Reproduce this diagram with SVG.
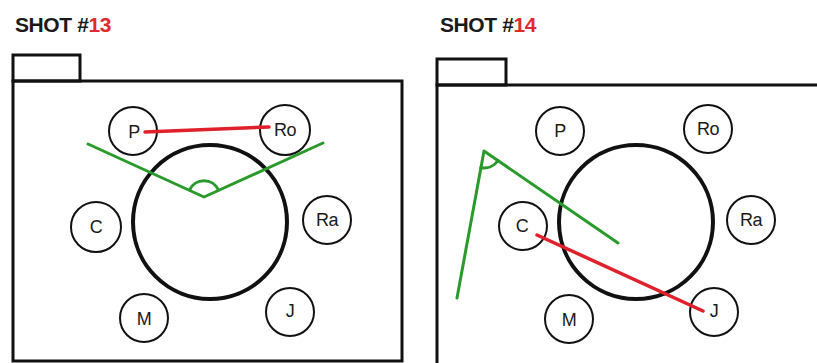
<svg xmlns="http://www.w3.org/2000/svg" width="817" height="363" viewBox="0 0 817 363">
  <style>
    .title { font-family: "Liberation Sans", Arial, sans-serif; font-weight: bold; font-size: 21px; fill: #1a1a1a; letter-spacing: -0.4px; }
    .num { fill: #e02a30; }
    .frame { fill: none; stroke: #111; stroke-width: 3; }
    .table { fill: none; stroke: #111; stroke-width: 4; }
    .seat { fill: #fff; stroke: #111; stroke-width: 2; }
    .lbl { font-family: "Liberation Sans", Arial, sans-serif; font-size: 18px; fill: #1a1a1a; text-anchor: middle; dominant-baseline: central; letter-spacing: -0.5px; }
    .sight { fill: none; stroke: #2a9a2a; stroke-width: 3; stroke-linecap: round; stroke-linejoin: round; }
    .axis { fill: none; stroke: #e0202a; stroke-width: 3.5; stroke-linecap: round; }
  </style>
  <rect width="817" height="363" fill="#fff"/>

  <!-- Shot 13 -->
  <g id="shot13">
    <text class="title" x="15" y="32">SHOT #<tspan class="num">13</tspan></text>
    <g id="s13-frame">
      <rect class="frame" x="13" y="55" width="67" height="26"/>
      <rect class="frame" x="13" y="81" width="389" height="280"/>
    </g>
    <g id="s13-table"><circle class="table" cx="210" cy="222" r="77"/></g>
    <g id="s13-P"><circle class="seat" cx="133" cy="131" r="24"/><text class="lbl" x="134" y="132">P</text></g>
    <g id="s13-Ro"><circle class="seat" cx="285" cy="130" r="25"/><text class="lbl" x="285" y="130">Ro</text></g>
    <g id="s13-C"><circle class="seat" cx="96" cy="227" r="25"/><text class="lbl" x="96" y="227">C</text></g>
    <g id="s13-Ra"><circle class="seat" cx="327" cy="220" r="24"/><text class="lbl" x="327" y="220">Ra</text></g>
    <g id="s13-M"><circle class="seat" cx="144" cy="318" r="24"/><text class="lbl" x="144" y="319">M</text></g>
    <g id="s13-J"><circle class="seat" cx="290" cy="312" r="24"/><text class="lbl" x="290" y="311">J</text></g>
    <g id="s13-lines">
      <path class="sight" d="M88 144 L204 197 L323 143"/>
      <path class="sight" d="M189.5 190 A16 16 0 0 1 218.5 190"/>
      <line class="axis" x1="145" y1="132" x2="269" y2="127"/>
    </g>
  </g>

  <!-- Shot 14 -->
  <g id="shot14">
    <text class="title" x="440" y="32">SHOT #<tspan class="num">14</tspan></text>
    <g id="s14-frame">
      <rect class="frame" x="437" y="59" width="69" height="26"/>
      <path class="frame" d="M437 370 L437 85 L820 85"/>
    </g>
    <g id="s14-table"><circle class="table" cx="636" cy="222" r="77"/></g>
    <g id="s14-P"><circle class="seat" cx="560" cy="131" r="24"/><text class="lbl" x="560" y="131">P</text></g>
    <g id="s14-Ro"><circle class="seat" cx="708" cy="129" r="24"/><text class="lbl" x="708" y="129">Ro</text></g>
    <g id="s14-C"><circle class="seat" cx="523" cy="226" r="24"/><text class="lbl" x="522" y="226">C</text></g>
    <g id="s14-Ra"><circle class="seat" cx="751" cy="220" r="24"/><text class="lbl" x="751" y="220">Ra</text></g>
    <g id="s14-M"><circle class="seat" cx="569" cy="319" r="24"/><text class="lbl" x="569" y="320">M</text></g>
    <g id="s14-J"><circle class="seat" cx="714" cy="312" r="24"/><text class="lbl" x="714" y="311">J</text></g>
    <g id="s14-lines">
      <path class="sight" d="M457 298 L484 151 L618 243"/>
      <path class="sight" d="M480.8 167.7 A17 17 0 0 0 498 160.6"/>
      <line class="axis" x1="537" y1="235" x2="703" y2="311"/>
    </g>
  </g>
</svg>
